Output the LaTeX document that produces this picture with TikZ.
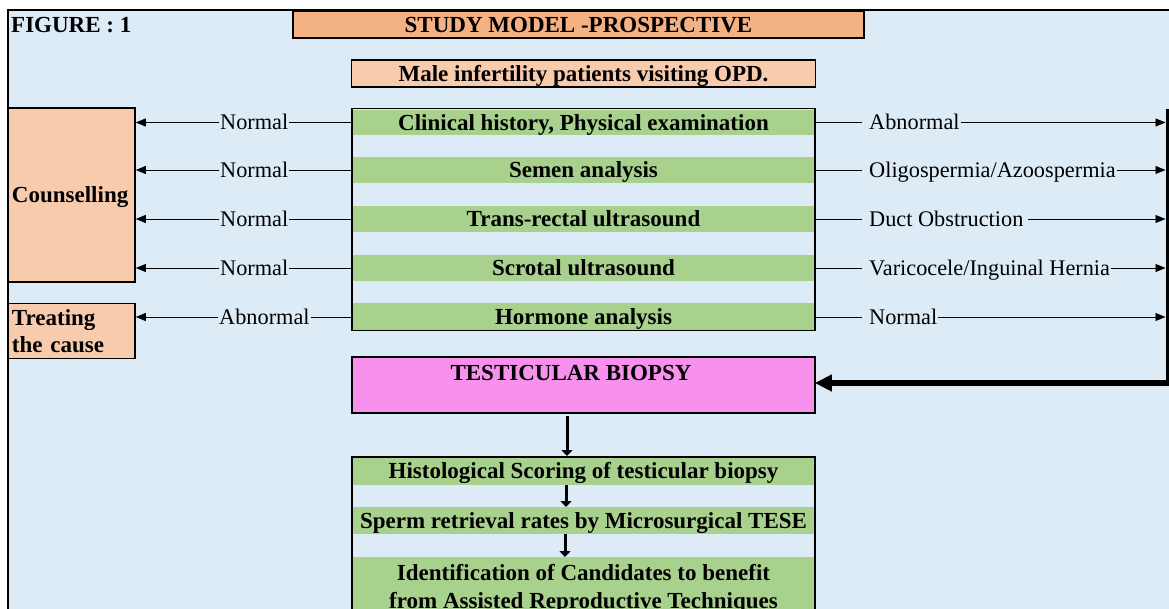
\documentclass[tikz,border=0pt]{standalone}
\usepackage{fontspec}
\setmainfont{Liberation Serif}
\usetikzlibrary{arrows.meta}
\definecolor{bgblue}{RGB}{221,235,247}
\definecolor{bandgreen}{RGB}{169,209,142}
\definecolor{peach}{RGB}{248,203,173}
\definecolor{salmon}{RGB}{244,177,131}
\definecolor{pinkbox}{RGB}{247,145,237}
\newcommand\mybf{\fontsize{23}{26}\selectfont\bfseries}
\newcommand\myrm{\fontsize{22.3}{26}\selectfont}
\tikzset{
  boxline/.style={draw=black, line width=1.6pt},
  capt/.style={text height=15.2pt, text depth=0pt},
  band/.style={fill=bandgreen, minimum width=461.5pt, minimum height=#1, inner sep=0pt, outer sep=0pt, font=\mybf, capt},
  lab/.style={fill=bgblue, inner xsep=1pt, inner ysep=0pt, font=\myrm, text height=14.8pt, text depth=0pt},
  thinarr/.style={line width=0.8pt, -{Triangle[length=10pt,width=8pt]}},
  downarr/.style={line width=3pt, -{Triangle[length=6pt,width=11pt]}},
  bigarr/.style={line width=6pt, -{Triangle[length=17pt,width=16pt]}},
}
\begin{document}
\begin{tikzpicture}[x=1pt,y=-1pt]
\useasboundingbox (0,0) rectangle (1169,609);
\fill[white] (0,0) rectangle (1169,609);
\fill[bgblue] (8,10) rectangle (1175,615);
\draw[line width=1.6pt] (8,615) -- (8,10) -- (1175,10);

\node (fig) [anchor=west, inner sep=0pt, font=\mybf, capt] at (11,24.5) {FIGURE : 1};
\node (title) [boxline, fill=salmon, minimum width=571pt, minimum height=27pt, inner sep=0pt, font=\mybf, capt] at (578.5,24.5) {STUDY MODEL -PROSPECTIVE};
\node (male) [boxline, fill=peach, minimum width=464pt, minimum height=27pt, inner sep=0pt, font=\mybf, capt] at (583.5,73.5) {Male infertility patients visiting OPD.};

% main stripe box
\node (main) [fill=bgblue, minimum width=463pt, minimum height=222pt, inner sep=0pt, outer sep=0pt] at (583.5,219.5) {};
\node (b1) [band=25pt] at (583.5,122.5) {Clinical history, Physical examination};
\node (b2) [band=26pt] at (583.5,170) {Semen analysis};
\node (b3) [band=26pt] at (583.5,219) {Trans-rectal ultrasound};
\node (b4) [band=26pt] at (583.5,268) {Scrotal ultrasound};
\node (b5) [band=27pt] at (583.5,317) {Hormone analysis};
\draw[boxline] (main.south west) rectangle (main.north east);

% left boxes
\node (couns) [boxline, fill=peach, minimum width=127pt, minimum height=174pt, inner xsep=4pt, inner ysep=0pt, text width=119pt, align=left, font=\mybf, capt] at (71.5,195) {Counselling};
\node (treat) [boxline, fill=peach, minimum width=127pt, minimum height=55pt, inner xsep=4pt, inner ysep=0pt, text width=119pt, align=left, font=\fontsize{23}{27}\selectfont\bfseries] at (71.5,331) {Treating\\the cause};

% left arrows
\draw[thinarr] (b1.west) -- (b1.west -| couns.east);
\draw[thinarr] (b2.west) -- (b2.west -| couns.east);
\draw[thinarr] (b3.west) -- (b3.west -| couns.east);
\draw[thinarr] (b4.west) -- (b4.west -| couns.east);
\draw[thinarr] (b5.west) -- (b5.west -| treat.east);
\node (ln1) [lab, anchor=west] at (219,122.5) {Normal};
\node (ln2) [lab, anchor=west] at (219,170) {Normal};
\node (ln3) [lab, anchor=west] at (219,219) {Normal};
\node (ln4) [lab, anchor=west] at (219,268) {Normal};
\node (ln5) [lab, anchor=west] at (218,317) {Abnormal};

% right side
\coordinate (vtop) at (1167,109);
\coordinate (vbot) at (1167,386);
\coordinate (vin) at (1165.5,200);
\draw[thinarr] (b1.east) -- (b1.east -| vin);
\draw[thinarr] (b2.east) -- (b2.east -| vin);
\draw[thinarr] (b3.east) -- (b3.east -| vin);
\draw[thinarr] (b4.east) -- (b4.east -| vin);
\draw[thinarr] (b5.east) -- (b5.east -| vin);
\node (rn1) [lab, anchor=west] at (862,122.5) {\hspace*{6pt}Abnormal};
\node (rn2) [lab, anchor=west] at (862,170) {\hspace*{6pt}Oligospermia/Azoospermia};
\node (rn3) [lab, anchor=west] at (862,219) {\hspace*{6pt}Duct Obstruction\hspace*{4pt}};
\node (rn4) [lab, anchor=west] at (862,268) {\hspace*{6pt}Varicocele/Inguinal Hernia};
\node (rn5) [lab, anchor=west] at (862,317) {\hspace*{6pt}Normal};
\draw[line width=3pt] (vtop) -- (vbot);

% biopsy
\node (biopsy) [boxline, fill=pinkbox, minimum width=463pt, minimum height=56pt, inner sep=0pt] at (583.5,385) {};
\node (biotext) [font=\mybf, capt, inner sep=0pt] at (571,373) {TESTICULAR BIOPSY};
\coordinate (arrstart) at (1169.5,383);
\draw[bigarr, shorten >=-1pt] (arrstart) -- (arrstart -| biopsy.east);

% lower box
\node (lower) [fill=bgblue, minimum width=463pt, minimum height=160pt, inner sep=0pt, outer sep=0pt] at (583.5,537) {};
\node (h1) [band=28pt] at (583.5,471) {Histological Scoring of testicular biopsy};
\node (h2) [band=27pt] at (583.5,520.5) {Sperm retrieval rates by Microsurgical TESE};
\node (h3) [fill=bandgreen, minimum width=461.5pt, minimum height=62pt, inner sep=0pt, outer sep=0pt] at (583.5,588) {};
\node (h3t) [font=\fontsize{23}{28}\selectfont\bfseries, align=center, anchor=north, inner sep=0pt] at (583.5,564.5) {Identification of Candidates to benefit\\from Assisted Reproductive Techniques};
\draw[boxline] (lower.south west) -- (lower.north west) -- (lower.north east) -- (lower.south east);

\draw[downarr] ([xshift=-16.5pt,yshift=-2.5pt]biopsy.south) -- ([xshift=-16.5pt,yshift=1pt]lower.north);
\draw[downarr] ([xshift=-17.5pt]h1.south) -- ([xshift=-17.5pt]h2.north);
\draw[downarr] ([xshift=-18.5pt]h2.south) -- ([xshift=-18.5pt]h3.north);
\end{tikzpicture}
\end{document}
